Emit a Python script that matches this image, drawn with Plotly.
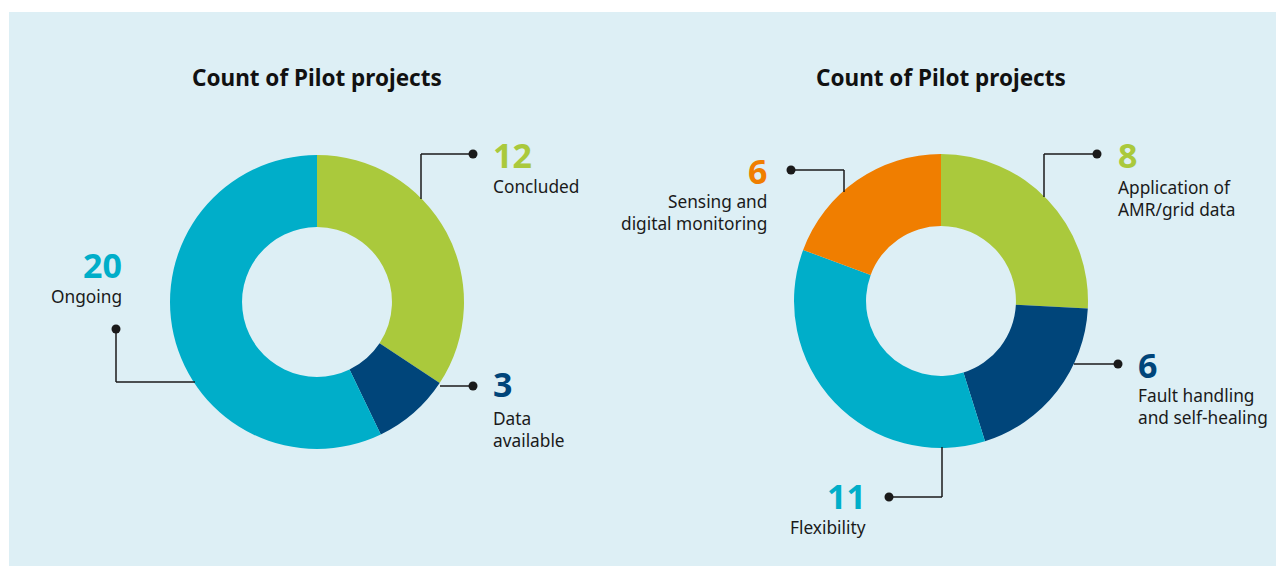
import plotly.graph_objects as go

# figure size; the page puts the figure 8px in from the top-left corner
W, H = 1276, 558
OFF = 8

# data
status_labels = ["Concluded", "Data available", "Ongoing"]
status_values = [12, 3, 20]
status_colors = ["#aac93c", "#00457a", "#00aec9"]

topic_labels = ["Application of AMR/grid data", "Fault handling and self-healing",
                "Flexibility", "Sensing and digital monitoring"]
topic_values = [8, 6, 11, 6]
topic_colors = ["#aac93c", "#00457a", "#00aec9", "#f07e00"]

chart_title = "Count of Pilot projects"

BG = "#ddeff5"
INK = "#1a1a1a"
FONT = "Noto Sans"
R_OUT = 147


# screen pixel -> paper coordinates
def px(x):
    return (x - OFF) / W


def py(y):
    return 1 - (y - OFF) / H


def donut_domain(cx, cy, r):
    return dict(x=[px(cx - r), px(cx + r)], y=[py(cy + r), py(cy - r)])


fig = go.Figure()

fig.add_trace(
    go.Pie(
        labels=status_labels,
        values=status_values,
        marker=dict(colors=status_colors, line=dict(width=0)),
        hole=0.51,
        sort=False,
        direction="clockwise",
        textinfo="none",
        hovertemplate="%{label}: %{value}<extra></extra>",
        domain=donut_domain(317, 302, R_OUT),
        showlegend=False,
    )
)

fig.add_trace(
    go.Pie(
        labels=topic_labels,
        values=topic_values,
        marker=dict(colors=topic_colors, line=dict(width=0)),
        hole=0.51,
        sort=False,
        direction="clockwise",
        textinfo="none",
        hovertemplate="%{label}: %{value}<extra></extra>",
        domain=donut_domain(941, 301, R_OUT),
        showlegend=False,
    )
)

shapes = [
    # white frame strips round the panel
    dict(type="rect", xref="paper", yref="paper", x0=0, x1=1, y0=py(12), y1=1,
         fillcolor="white", line=dict(width=0)),
    dict(type="rect", xref="paper", yref="paper", x0=0, x1=px(9), y0=0, y1=1,
         fillcolor="white", line=dict(width=0)),
]


def leader(points):
    # polyline of leader segments + dot at the last point
    for (x0, y0), (x1, y1) in zip(points[:-1], points[1:]):
        shapes.append(dict(type="line", xref="paper", yref="paper",
                           x0=px(x0), y0=py(y0), x1=px(x1), y1=py(y1),
                           line=dict(color=INK, width=1.5)))
    dx, dy = points[-1]
    rd = 4.5
    shapes.append(dict(type="circle", xref="paper", yref="paper",
                       x0=px(dx - rd), x1=px(dx + rd), y0=py(dy + rd), y1=py(dy - rd),
                       fillcolor=INK, line=dict(width=0)))


# left donut leaders
leader([(421, 199), (421, 154), (473, 154)])
leader([(440, 386), (473, 386)])
leader([(195, 382), (116, 382), (116, 329)])
# right donut leaders
leader([(1044, 197), (1044, 154), (1097, 154)])
leader([(1074, 364), (1118, 364)])
leader([(942, 447), (942, 497), (889, 497)])
leader([(844, 192), (844, 170), (791, 170)])

annotations = []


def note(x, y, text, anchor, size, color, bold=False):
    annotations.append(dict(
        x=px(x), y=py(y), xref="paper", yref="paper",
        text=f"<b>{text}</b>" if bold else text,
        showarrow=False, xanchor=anchor, yanchor="middle",
        align=anchor,
        font=dict(family=FONT, size=size, color=color),
    ))


def callout(x, y_num, y_txt, value, label, anchor, color):
    note(x, y_num, value, anchor, 34, color, bold=True)
    note(x, y_txt, label, anchor, 17.3, INK)


note(317, 78, chart_title, "center", 22.5, "#111111", bold=True)
note(941, 78, chart_title, "center", 22.5, "#111111", bold=True)

callout(491, 155, 186, status_values[0], "Concluded", "left", status_colors[0])
callout(491, 384, 429, status_values[1], "Data<br>available", "left", status_colors[1])
callout(124, 265, 297, status_values[2], "Ongoing", "right", status_colors[2])

callout(1116, 155, 198, topic_values[0], "Application of<br>AMR/grid data", "left", topic_colors[0])
callout(1136, 365, 406, topic_values[1], "Fault handling<br>and self-healing", "left", topic_colors[1])
callout(868, 496, 527, topic_values[2], "Flexibility", "right", topic_colors[2])
callout(769, 171, 212, topic_values[3], "Sensing and<br>digital monitoring", "right", topic_colors[3])

fig.update_layout(
    width=W,
    height=H,
    autosize=False,
    margin=dict(l=0, r=0, t=0, b=0),
    paper_bgcolor=BG,
    plot_bgcolor=BG,
    shapes=shapes,
    annotations=annotations,
    font=dict(family=FONT),
)

fig.write_html("out.html")
